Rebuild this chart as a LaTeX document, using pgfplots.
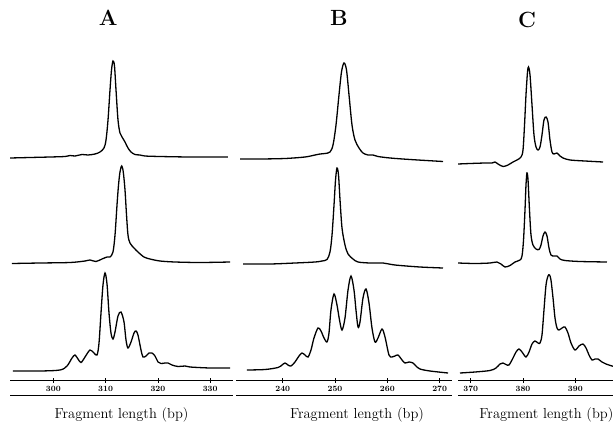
\documentclass[border=0pt]{standalone}
\usepackage{pgfplots}
\pgfplotsset{compat=1.18}

% one style for the three gel scans; y is the height of a trace in pt above the scale
\pgfplotsset{
  gel/.style={
    anchor=south west, scale only axis, height=380pt,
    ymin=0, ymax=380,
    axis y line=none, axis x line=bottom,
    x axis line style={-, line width=1pt},
    tick align=center, major tick length=5pt,
    tick style={black, line width=0.8pt},
    minor tick num=0,
    /pgf/number format/assume math mode=true,
    xticklabel style={font=\fontsize{8}{9}\selectfont\bfseries},
    xlabel={Fragment length (bp)},
    xlabel style={font=\fontsize{14.5}{16}\selectfont, anchor=base,
      at={(axis description cs:0.5,0)}, yshift=-38pt},
    title style={font=\fontsize{22}{22}\selectfont\bfseries, anchor=base},
    clip mode=individual,
    every axis plot/.append style={smooth, no markers},
    every axis plot post/.append style={black, line width=1.3pt},
  }
}

\begin{document}
\begin{tikzpicture}
\useasboundingbox (0,0) rectangle (613pt,424pt);

% ---------------- A ----------------
\begin{axis}[gel, at={(10pt,44pt)}, width=223pt,
  xmin=291.72, xmax=334.36, xtick={300,310,320,330},
  title=A, title style={at={(axis description cs:0.44,0.916)}}]
\addplot coordinates {
 (291.72,222) (295.55,222.5) (299.37,223) (302.24,223.5) (303.19,224.5) (304.15,224)
 (305.49,225.5) (306.63,225) (307.97,226) (308.93,228) (309.69,232) (310.08,240)
 (310.46,260) (310.84,290) (311.13,310) (311.41,319) (311.70,314) (311.99,290)
 (312.37,260) (312.75,247) (313.14,243) (313.71,238) (314.28,232) (314.86,228)
 (315.62,225.5) (316.58,225) (317.53,224) (320.40,223.5) (326.14,223) (333.40,223)
};
\addplot coordinates {
 (292.10,116.5) (297.46,117) (303.19,117.5) (306.06,119) (307.02,120) (308.16,118.5)
 (309.31,121) (310.27,123) (310.84,123) (311.41,128) (311.80,145) (312.18,175)
 (312.47,195) (312.75,208) (313.08,214) (313.38,208) (313.71,190) (314.00,165)
 (314.28,145) (314.66,137) (315.43,132) (316.19,128) (317.34,123) (318.49,121)
 (320.40,119) (323.27,118) (328.05,117.5) (333.79,118)
};
\addplot coordinates {
 (292.29,9) (297.46,9) (301.28,10) (302.62,14) (303.58,22) (304.15,25) (304.72,21)
 (305.30,17.5) (306.06,23) (307.02,30) (307.78,27) (308.36,25) (308.74,37)
 (309.12,67) (309.50,95) (309.89,107) (310.27,96) (310.65,67) (311.03,47)
 (311.41,41) (311.80,48) (312.37,64) (312.94,68) (313.52,58) (313.90,40)
 (314.28,32) (314.86,38) (315.43,47) (315.81,49) (316.19,45) (316.77,30)
 (317.15,23) (317.72,24) (318.30,27) (318.87,27) (319.45,24) (320.02,18)
 (320.59,16.5) (321.36,17) (321.93,17) (322.70,15) (323.84,13.5) (325.18,14)
 (326.14,13) (329.96,12) (333.79,12)
};
\draw[line width=0.9pt] ([yshift=-15pt]rel axis cs:0,0) -- ([yshift=-15pt]rel axis cs:1,0);
\end{axis}

% ---------------- B ----------------
\begin{axis}[gel, at={(236pt,44pt)}, width=216pt,
  xmin=231.07, xmax=272.37, xtick={240,250,260,270},
  title=B, title style={at={(axis description cs:0.477,0.916)}},
  xlabel style={at={(axis description cs:0.56,0)}}]
\addplot coordinates {
 (231.84,221) (235.66,221) (240.44,221.5) (244.26,223) (246.18,225) (247.13,226)
 (248.09,226.5) (249.04,228) (249.62,235) (250.19,255) (250.76,285) (251.24,308)
 (251.72,317) (252.20,310) (252.68,285) (253.25,255) (253.82,240) (254.59,232)
 (255.35,227) (256.31,225) (257.27,225) (258.22,223.5) (260.52,222) (264.34,220.5)
 (270.65,218.5)
};
\addplot coordinates {
 (232.41,116) (237.57,116) (242.35,117) (246.18,118) (247.51,119) (248.47,120.5)
 (249.04,128) (249.43,145) (249.81,175) (250.10,200) (250.38,212) (250.67,205)
 (250.96,180) (251.34,152) (251.91,135) (252.49,126) (253.44,121) (254.40,118)
 (256.69,117) (259.18,117) (261.47,115) (266.25,113) (270.65,112)
};
\addplot coordinates {
 (233.17,10) (236.62,10.5) (239.10,12.5) (239.87,15) (240.44,17) (241.01,15)
 (241.59,14) (242.35,18) (243.12,24) (243.69,27) (244.26,25) (244.84,23)
 (245.41,30) (245.98,42) (246.75,52) (247.32,49) (247.90,42) (248.47,38)
 (248.85,47) (249.23,70) (249.81,86) (250.38,75) (250.86,60) (251.34,50)
 (251.91,62) (252.49,90) (253.06,104) (253.63,90) (254.01,70) (254.40,53)
 (254.78,58) (255.35,82) (255.93,91) (256.50,77) (257.07,52) (257.65,38)
 (258.22,42) (258.99,51) (259.56,43) (260.32,25) (260.90,23) (261.47,24)
 (262.05,25) (262.81,20) (263.38,17) (264.15,18) (264.91,17) (265.49,14)
 (266.25,11) (268.16,9) (271.61,7)
};
\draw[line width=0.9pt] ([yshift=-15pt]rel axis cs:0,0) -- ([yshift=-15pt]rel axis cs:1,0);
\end{axis}

% ---------------- C ----------------
\begin{axis}[gel, at={(458pt,44pt)}, width=155pt,
  xmin=367.57, xmax=397.21, xtick={370,380,390},
  title=C, title style={at={(axis description cs:0.445,0.913)}},
  xlabel style={at={(axis description cs:0.57,0)}}]
\addplot coordinates {
 (367.57,216) (369.87,216.5) (372.73,217) (374.07,217) (374.65,218) (375.22,216)
 (376.18,213.5) (377.13,215) (378.09,218) (378.85,220) (379.62,223) (380.00,230)
 (380.29,255) (380.57,285) (380.86,308) (381.05,313) (381.34,305) (381.72,275)
 (382.10,245) (382.49,233) (382.87,230) (383.25,233) (383.63,245) (384.01,260)
 (384.40,263) (384.78,258) (385.16,240) (385.54,228) (385.93,226) (386.50,227)
 (387.07,224) (387.65,222) (388.99,220) (391.85,219) (395.30,218)
};
\addplot coordinates {
 (367.57,117) (370.82,116.5) (373.69,117) (375.03,118) (375.79,116) (376.56,113)
 (377.51,114.5) (378.47,118) (379.43,120) (379.81,124) (380.10,140) (380.38,170)
 (380.57,195) (380.76,207) (380.96,200) (381.24,170) (381.53,145) (381.91,135)
 (382.49,131) (383.06,130.5) (383.44,135) (383.82,144) (384.21,148) (384.59,144)
 (384.97,132) (385.35,125) (385.93,124) (386.50,124) (387.07,121) (388.03,119.5)
 (390.90,118.5) (396.06,118)
};
\addplot coordinates {
 (367.95,7) (370.82,8) (373.69,9.5) (374.84,12) (375.60,16) (376.18,17) (376.75,15.5)
 (377.32,15) (378.09,22) (378.66,28) (379.23,31) (379.81,28) (380.57,23) (381.15,28)
 (381.72,36) (382.29,39) (382.87,37) (383.25,37) (383.63,45) (384.01,70) (384.40,95)
 (384.78,104) (385.07,105) (385.35,100) (385.74,82) (386.12,62) (386.50,52)
 (386.88,50) (387.46,52) (388.03,53) (388.60,47) (389.18,37) (389.94,30) (390.71,34)
 (391.47,36) (392.05,32) (392.62,25) (393.19,20) (393.77,21) (394.34,21) (395.10,18)
 (395.87,16) (397.02,14) (397.78,13)
};
\draw[line width=0.9pt] ([yshift=-15pt]rel axis cs:0,0) -- ([yshift=-15pt]rel axis cs:1,0);
\end{axis}
\end{tikzpicture}
\end{document}
